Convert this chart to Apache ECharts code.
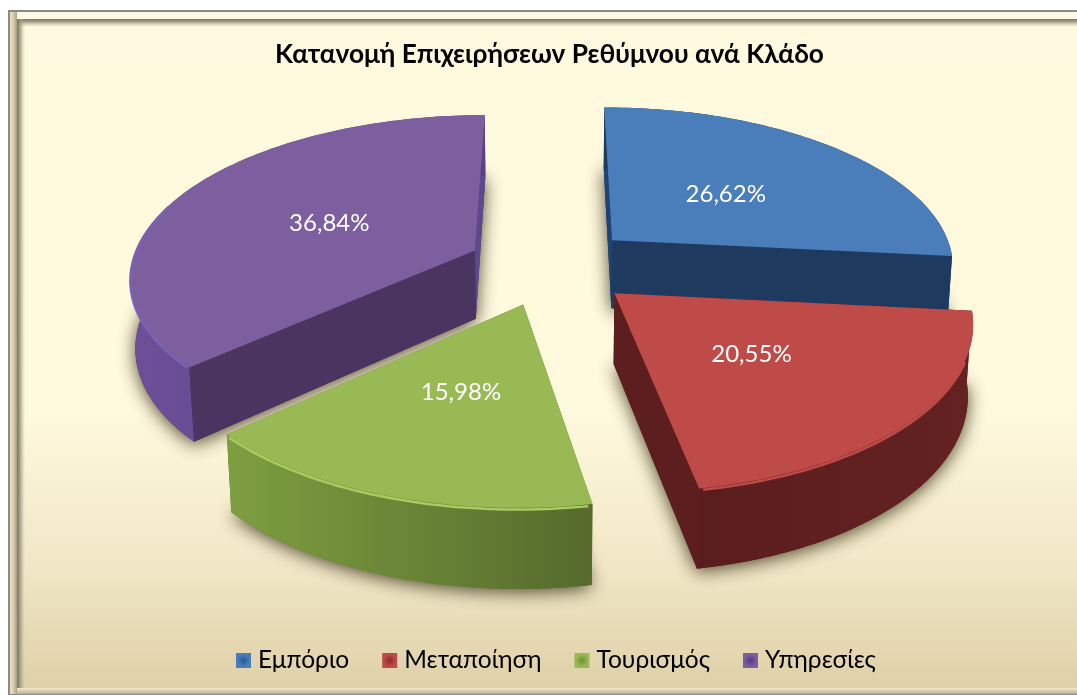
<!DOCTYPE html>
<html><head><meta charset="utf-8">
<style>html,body{margin:0;padding:0;background:#fff}#c{width:1077px;height:695px}</style>
<script src="https://cdn.jsdelivr.net/npm/echarts@6/dist/echarts.min.js"></script>
</head><body><div id="c"></div>
<script>
const titleText = 'Κατανομή Επιχειρήσεων Ρεθύμνου ανά Κλάδο';
const categories = ['Εμπόριο', 'Μεταποίηση', 'Τουρισμός', 'Υπηρεσίες'];
const values = [26.62, 20.55, 15.98, 36.84];
const topColors = ['#4A7EBB', '#BE4B48', '#98B954', '#7D5FA0'];
const rimColors = ['#4A7EBB', '#BE4B48', '#A9CB62', '#7A62B4'];
const frontWallColors = ['#1F3A5F', '#5C1E1F', '#5F7530', '#4A3561'];
const backWallColors = ['#1D4478', '#6A2424', '#5F7530', '#5C4A8C'];
const outerWallLeft = ['#1F3A5F', '#5A1D1E', '#7E9F40', '#6C4F98'];
const outerWallRight = ['#1F3A5F', '#642222', '#556A2C', '#5C4283'];
const iconCore = ['#2A5A94', '#8E2C2B', '#6E9236', '#4F3A80'];
const drawOrder = [3, 0, 1, 2];

const FONT = 'Lato, "Open Sans", sans-serif';
const total = values.reduce((s, v) => s + v, 0);
const view = { cx: 551, cy: 266, a: 344, b: 160, d: 70, p: 0.15, q: 0.012, e: 0.245 };
const G = echarts.graphic;

function project(theta, r, z, mid) {
  const X = r * Math.sin(theta) + view.e * Math.sin(mid);
  const Y = r * Math.cos(theta) + view.e * Math.cos(mid);
  const w = 1 + view.p * Y + view.q * z;
  return [view.cx + view.a * X / w, view.cy + (-view.b * Y + view.d * z) / w];
}
function sliceAngles(i) {
  const before = values.slice(0, i).reduce((s, v) => s + v, 0);
  return [before / total * 2 * Math.PI, (before + values[i]) / total * 2 * Math.PI];
}
function arc(t0, t1, z, mid) {
  const n = Math.max(2, Math.ceil((t1 - t0) / 0.02)), pts = [];
  for (let k = 0; k <= n; k++) pts.push(project(t0 + (t1 - t0) * k / n, 1, z, mid));
  return pts;
}
function renderSlice(i) {
  return function (params, api) {
    const v = api.value(0);
    const [t0, t1] = sliceAngles(i);
    const mid = (t0 + t1) / 2;
    const apexTop = project(0, 0, 0, mid), apexBot = project(0, 0, 1, mid);
    const topArc = arc(t0, t1, 0, mid), botArc = arc(t0, t1, 1, mid);
    const poly = (points, style) => ({ type: 'polygon', shape: { points }, style });
    const startFront = Math.sin(t0) < -1e-6, endFront = Math.sin(t1) > 1e-6;
    const wallStart = poly([apexTop, topArc[0], botArc[0], apexBot],
      { fill: startFront ? frontWallColors[i] : backWallColors[i] });
    const wallEnd = poly([apexTop, topArc[topArc.length - 1], botArc[botArc.length - 1], apexBot],
      { fill: endFront ? frontWallColors[i] : backWallColors[i] });
    const outer = poly(topArc.concat(botArc.slice().reverse()), {
      fill: new G.LinearGradient(0, 0, 1, 0, [
        { offset: 0, color: outerWallLeft[i] }, { offset: 1, color: outerWallRight[i] }])
    });
    const shadow = poly([apexBot].concat(botArc), {
      fill: frontWallColors[i], shadowBlur: 18, shadowColor: 'rgba(50,42,15,0.85)', shadowOffsetX: 0, shadowOffsetY: 3
    });
    const top = poly([apexTop].concat(topArc), { fill: topColors[i] });
    const rimStart = Math.max(t0, Math.PI * 0.62), rimEnd = Math.min(t1, Math.PI * 1.6);
    const children = [shadow];
    if (!startFront) children.push(wallStart);
    if (!endFront) children.push(wallEnd);
    children.push(outer);
    if (startFront) children.push(wallStart);
    if (endFront) children.push(wallEnd);
    children.push(top);
    if (rimEnd > rimStart) {
      children.push({ type: 'polyline', shape: { points: arc(rimStart + 0.01, rimEnd - 0.01, 0.02, mid) },
        style: { stroke: rimColors[i], lineWidth: 2.5, fill: null } });
    }
    const lp = project(mid, 0.49, 0, mid);
    children.push({ type: 'text', style: {
      x: lp[0], y: lp[1] + 2, text: v.toFixed(2).replace('.', ',') + '%',
      fill: '#fff', font: '24px ' + FONT, textAlign: 'center', textVerticalAlign: 'middle' } });
    return { type: 'group', children };
  };
}

const chart = echarts.init(document.getElementById('c'), null, { renderer: 'canvas', width: 1077, height: 695 });
const grad = (x, y, stops) => new G.LinearGradient(0, 0, x, y, stops.map(c => ({ offset: c[0], color: c[1] })));
const frame = [
  { x: 8, y: 10, w: 1069, h: 685, fill: '#8C8A84' },
  { x: 10, y: 12, w: 1067, h: 682, fill: grad(0, 1, [[0, '#FFFBE6'], [0.5, '#F6EFD2'], [1, '#E6DDBE']]) },
  { x: 10, y: 12, w: 7, h: 682, fill: grad(1, 0, [[0, '#E9E2C9'], [0.5, '#D6CCAE'], [1, '#A89E84']]) },
  { x: 17, y: 19, w: 1060, h: 669, fill: grad(0, 1, [[0, '#FFFADF'], [0.58, '#FFF9DE'], [0.82, '#F1E7C6'], [1, '#DED0A8']]) },
  { x: 17, y: 19, w: 1060, h: 8, fill: grad(0, 1, [[0, 'rgba(120,115,100,1)'], [0.35, 'rgba(150,145,125,0.85)'], [1, 'rgba(190,180,150,0)']]) },
  { x: 17, y: 19, w: 8, h: 669, fill: grad(1, 0, [[0, 'rgba(120,115,100,1)'], [0.35, 'rgba(150,145,125,0.85)'], [1, 'rgba(190,180,150,0)']]) },
  { x: 17, y: 688, w: 1060, h: 6, fill: grad(0, 1, [[0, '#F1E9CD'], [0.5, '#D9CFAF'], [1, '#B8AE90']]) }
].map(r => ({ type: 'rect', silent: true, z: -10, shape: { x: r.x, y: r.y, width: r.w, height: r.h }, style: { fill: r.fill } }));

const legendIcon = (i) => new G.RadialGradient(0.5, 0.5, 0.7, [
  { offset: 0, color: iconCore[i] }, { offset: 0.6, color: topColors[i] }, { offset: 1, color: topColors[i] }]);

chart.setOption({
  animation: false,
  graphic: { elements: frame },
  title: { text: titleText, left: 275, top: 42, padding: 0,
    textStyle: { fontFamily: FONT, fontWeight: 'bold', fontSize: 26.25, color: '#000' } },
  legend: { bottom: 22, left: 236, padding: 0, itemWidth: 15, itemHeight: 15, itemGap: 33, icon: 'rect',
    textStyle: { fontFamily: FONT, fontSize: 24.5, color: '#000', padding: [0, 0, 0, 2] },
    data: categories.map((name, i) => ({ name, itemStyle: { color: legendIcon(i) } })) },
  series: drawOrder.map(i => ({
    name: categories[i], type: 'custom', coordinateSystem: 'none',
    itemStyle: { color: topColors[i] },
    data: [[values[i]]], renderItem: renderSlice(i)
  }))
});
</script></body></html>
